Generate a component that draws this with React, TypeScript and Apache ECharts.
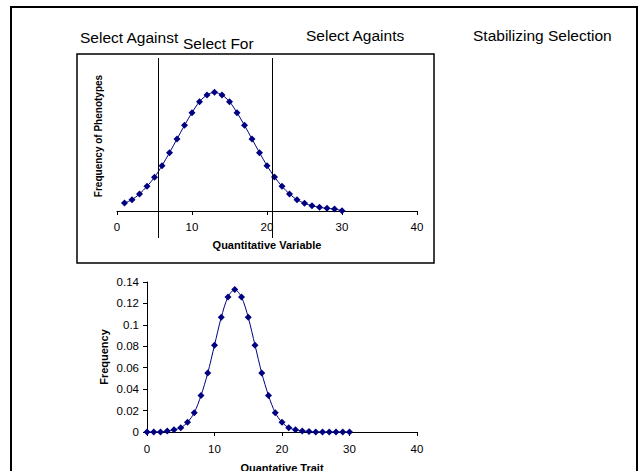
import React, { useEffect, useRef } from "react";
import * as echarts from "echarts";

const topX = [1,2,3,4,5,6,7,8,9,10,11,12,13,14,15,16,17,18,19,20,21,22,23,24,25,26,27,28,29,30];
const topY = [24,34,51,74,101,136,175,216,257,295,328,348,356,348,328,295,257,216,175,136,102,74,51,34,23,16,11,8,6,1];
const cutoffs = [5.5, 20.7];

const botX = [0,1,2,3,4,5,6,7,8,9,10,11,12,13,14,15,16,17,18,19,20,21,22,23,24,25,26,27,28,29,30];
const botY = [0,0,0,0.001,0.002,0.004,0.009,0.018,0.034,0.055,0.081,0.107,0.126,0.133,0.126,0.107,0.081,0.055,0.034,0.018,0.009,0.004,0.002,0.001,0.0005,0,0,0,0,0,0];

const labels = [
  { text: "Select Against", x: 80, y: 37 },
  { text: "Select For", x: 183, y: 43 },
  { text: "Select Againts", x: 306, y: 35 },
  { text: "Stabilizing Selection", x: 473, y: 35 },
];

const FONT = "'Liberation Sans', Arial, sans-serif";
const NAVY = "#000080";

export default function App() {
  const ref = useRef<HTMLDivElement>(null);
  useEffect(() => {
    if (!ref.current) return;
    const chart = echarts.init(ref.current, undefined, { renderer: "svg" });
    const axisText = { color: "#000", fontFamily: FONT, fontSize: 11.5 };
    const nameText = { color: "#000", fontFamily: FONT, fontSize: 11, fontWeight: "bold" as const };
    chart.setOption({
      animation: false,
      backgroundColor: "#fff",
      textStyle: { fontFamily: FONT },
      grid: [
        { left: 117, width: 300, top: 61, height: 150, containLabel: false, outerBoundsMode: "none" },
        { left: 117, width: 300, top: 58, height: 180, containLabel: false, outerBoundsMode: "none" },
        { left: 147, width: 270, top: 282, height: 150, containLabel: false, outerBoundsMode: "none" },
      ],
      xAxis: [
        {
          gridIndex: 0, type: "value", min: 0, max: 40, interval: 10,
          axisLine: { lineStyle: { color: "#000", width: 1 } },
          axisTick: { show: true, length: 4, lineStyle: { color: "#000" } },
          axisLabel: { ...axisText, margin: 10 },
          splitLine: { show: false },
          name: "Quantitative Variable", nameLocation: "middle", nameGap: 28, nameTextStyle: nameText,
        },
        { gridIndex: 1, type: "value", min: 0, max: 40, show: false },
        {
          gridIndex: 2, type: "value", min: 0, max: 40, interval: 10,
          axisLine: { lineStyle: { color: "#000", width: 1 } },
          axisTick: { show: true, length: 4, lineStyle: { color: "#000" } },
          axisLabel: { ...axisText, margin: 11 },
          splitLine: { show: false },
          name: "Quantative Trait", nameLocation: "middle", nameGap: 30, nameTextStyle: nameText,
        },
      ],
      yAxis: [
        {
          gridIndex: 0, type: "value", min: 0, max: 450,
          axisLine: { show: false }, axisTick: { show: false }, axisLabel: { show: false },
          splitLine: { show: false },
          name: "Frequency of Phenotypes", nameLocation: "middle", nameGap: 14,
          nameTextStyle: { ...nameText, fontSize: 10 },
        },
        { gridIndex: 1, type: "value", min: 0, max: 1, show: false },
        {
          gridIndex: 2, type: "value", min: 0, max: 0.14, interval: 0.02,
          axisLine: { show: true, lineStyle: { color: "#000", width: 1 } },
          axisTick: { show: true, length: 4, lineStyle: { color: "#000" } },
          axisLabel: { ...axisText, margin: 8 },
          splitLine: { show: false },
          name: "Frequency", nameLocation: "middle", nameGap: 38, nameTextStyle: nameText,
        },
      ],
      series: [
        {
          type: "line", xAxisIndex: 0, yAxisIndex: 0,
          data: topX.map((x, i) => [x, topY[i]]),
          smooth: 0.3, symbol: "diamond", symbolSize: 7,
          lineStyle: { color: NAVY, width: 1 }, itemStyle: { color: NAVY },
        },
        {
          type: "line", xAxisIndex: 1, yAxisIndex: 1, data: [],
          markLine: {
            silent: true, symbol: "none", label: { show: false },
            lineStyle: { color: "#000", width: 1, type: "solid" },
            data: cutoffs.map((v) => ({ xAxis: v })),
          },
        },
        {
          type: "line", xAxisIndex: 2, yAxisIndex: 2,
          data: botX.map((x, i) => [x, botY[i]]),
          smooth: 0.3, symbol: "diamond", symbolSize: 7,
          lineStyle: { color: NAVY, width: 1 }, itemStyle: { color: NAVY },
        },
      ],
      graphic: [
        {
          type: "rect", shape: { x: 11, y: 7, width: 626, height: 490 },
          style: { fill: "none", stroke: "#000", lineWidth: 2 }, silent: true,
        },
        {
          type: "rect", shape: { x: 77, y: 54, width: 357, height: 209 },
          style: { fill: "none", stroke: "#000", lineWidth: 1.5 }, silent: true,
        },
        ...labels.map((l) => ({
          type: "text", x: l.x, y: l.y,
          style: { text: l.text, fill: "#000", fontFamily: FONT, fontSize: 15.5, textVerticalAlign: "middle", verticalAlign: "middle" },
          silent: true,
        })),
      ],
    });
    return () => chart.dispose();
  }, []);
  return <div ref={ref} style={{ position: "fixed", left: 0, top: 0, width: 640, height: 471 }} />;
}
